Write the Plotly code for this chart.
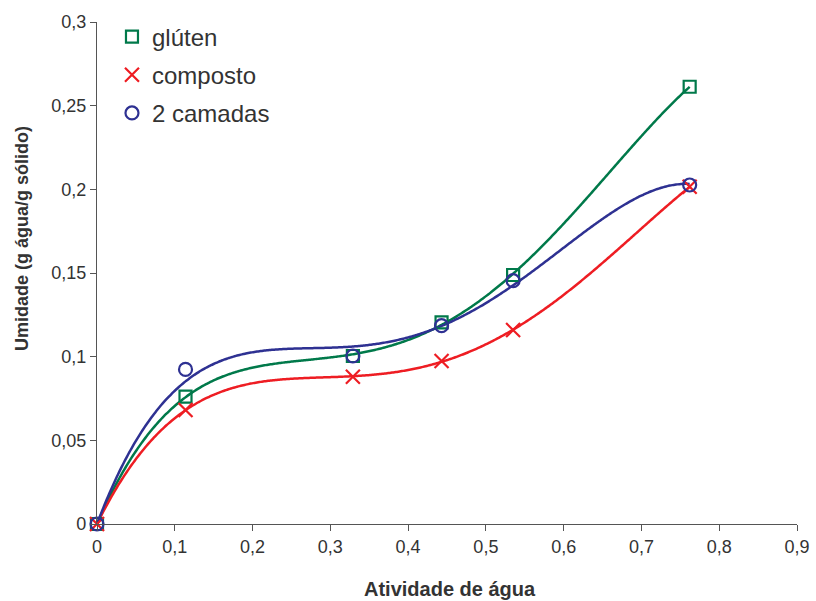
import numpy as np
import plotly.graph_objects as go

# Water activity of each saturated-salt environment
aw = [0.0, 0.1138, 0.329, 0.443, 0.535, 0.762]

# Equilibrium moisture (g water / g solid)
gluten = [0.0, 0.0761, 0.1004, 0.1205, 0.1488, 0.2613]
composto = [0.0, 0.0681, 0.0880, 0.0974, 0.1159, 0.2015]
camadas = [0.0, 0.0924, 0.1004, 0.1185, 0.1454, 0.2026]

x_ticks = [0, 0.1, 0.2, 0.3, 0.4, 0.5, 0.6, 0.7, 0.8, 0.9]
x_labels = ["0", "0,1", "0,2", "0,3", "0,4", "0,5", "0,6", "0,7", "0,8", "0,9"]
y_ticks = [0, 0.05, 0.1, 0.15, 0.2, 0.25, 0.3]
y_labels = ["0", "0,05", "0,1", "0,15", "0,2", "0,25", "0,3"]

# name, values, colour, marker symbol, marker size, curvature penalty of the trend
series = [
    ("glúten", gluten, "#00794A", "square-open", 12, 0.0),
    ("composto", composto, "#EE1D23", "x-thin-open", 14, 0.0),
    ("2 camadas", camadas, "#2E3192", "circle-open", 13, 3e-5),
]

X_MAX = max(aw)
POWERS = [1, 2, 3, 4]


def trend(xv, yv, lam, xs):
    """4th-order polynomial through the origin, least squares with an
    optional penalty on the integrated squared second derivative."""
    xv = np.asarray(xv)
    yv = np.asarray(yv)
    A = np.vstack([xv ** k for k in POWERS]).T
    R = np.zeros((len(POWERS), len(POWERS)))
    for a, j in enumerate(POWERS):
        for b, k in enumerate(POWERS):
            if j >= 2 and k >= 2:
                p = j + k - 3
                R[a, b] = j * (j - 1) * k * (k - 1) * X_MAX ** p / p
    c = np.linalg.solve(A.T @ A + lam * R, A.T @ yv)
    return sum(ci * xs ** k for ci, k in zip(c, POWERS))


fig = go.Figure()

xs = np.linspace(0, X_MAX, 240)
for name, ys, color, sym, size, lam in series:
    fig.add_trace(go.Scatter(
        x=xs, y=trend(aw, ys, lam, xs), mode="lines",
        line=dict(color=color, width=2.5, shape="spline", smoothing=0.6),
        showlegend=False, hoverinfo="skip", cliponaxis=False,
    ))

for i, (name, ys, color, sym, size, lam) in enumerate(series):
    fig.add_trace(go.Scatter(
        x=aw, y=ys, mode="markers", name=name, legendgroup=f"g{i}",
        marker=dict(symbol=sym, size=size, color=color,
                    line=dict(color=color, width=2.2)),
        cliponaxis=False,
    ))

axis_common = dict(
    showgrid=False, zeroline=False, automargin=False,
    showline=True, linecolor="#555555", linewidth=1.2,
    ticks="outside", ticklen=6, tickcolor="#555555",
    tickfont=dict(size=18, color="#333333"),
)

fig.update_layout(
    width=816, height=601,
    margin=dict(l=97, r=19, t=22, b=77),
    paper_bgcolor="white", plot_bgcolor="white",
    font=dict(family="Liberation Sans, Arial, sans-serif", color="#333333"),
    showlegend=True,
    legend=dict(
        x=0.0214, y=1.015, xanchor="left", yanchor="top",
        font=dict(size=24, color="#333333"),
        bgcolor="rgba(0,0,0,0)", tracegroupgap=4,
        itemwidth=30,
    ),
    xaxis=dict(range=[0, 0.9], tickvals=x_ticks, ticktext=x_labels, **axis_common),
    yaxis=dict(range=[0, 0.3], tickvals=y_ticks, ticktext=y_labels, **axis_common),
    annotations=[
        dict(text="<b>Atividade de água</b>", xref="paper", yref="paper",
             x=(450 - 97) / 700, y=-(589 - 524) / 502,
             xanchor="center", yanchor="middle", showarrow=False,
             font=dict(size=20, color="#333333")),
        dict(text="<b>Umidade (g água/g sólido)</b>", xref="paper", yref="paper",
             x=-(97 - 22) / 700, y=(524 - 239) / 502, textangle=-90,
             xanchor="center", yanchor="middle", showarrow=False,
             font=dict(size=18, color="#333333")),
    ],
)

fig.write_html("out.html")
